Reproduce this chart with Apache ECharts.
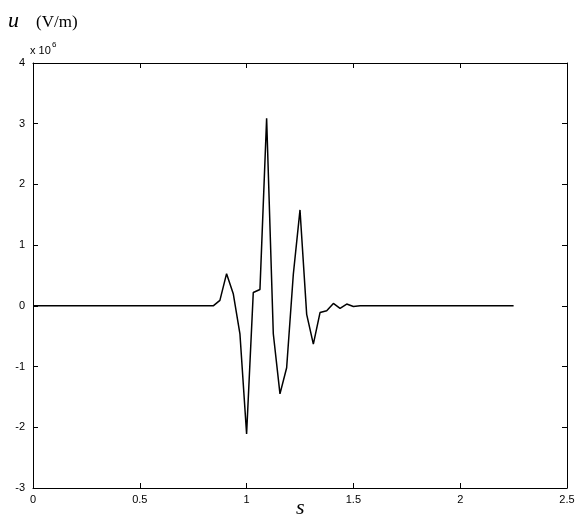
<!DOCTYPE html>
<html><head><meta charset="utf-8">
<script src="https://cdn.jsdelivr.net/npm/echarts@6/dist/echarts.min.js"></script>
<style>html,body{margin:0;background:#fff}#main{width:580px;height:525px}</style>
</head><body><div id="main"></div>
<script>
var sValues = [0, 0.84375, 0.875, 0.90625, 0.9375, 0.96875, 1.0, 1.03125, 1.0625, 1.09375, 1.125,
  1.15625, 1.1875, 1.21875, 1.25, 1.28125, 1.3125, 1.34375, 1.375, 1.40625, 1.4375, 1.46875, 1.5, 1.53125, 2.25];
var uValues = [0, 0, 0.09, 0.53, 0.20, -0.46, -2.11, 0.22, 0.27, 3.09, -0.46,
  -1.45, -1.02, 0.52, 1.58, -0.14, -0.63, -0.11, -0.08, 0.04, -0.04, 0.03, -0.01, 0, 0];

var chart = echarts.init(document.getElementById('main'));
var font = 'Liberation Sans, Arial, sans-serif';
var axisCommon = {
  axisLine: { onZero: false, lineStyle: { color: '#000', width: 1 } },
  axisTick: { inside: true, length: 5, lineStyle: { color: '#000' } },
  splitLine: { show: false }
};
chart.setOption({
  animation: false,
  grid: { left: 33, right: 13, top: 63, bottom: 37 },
  graphic: [
    { type: 'text', left: 8, top: 10, style: { text: 'u', font: 'italic 22px Liberation Serif, serif', fill: '#000' } },
    { type: 'text', left: 36, top: 14, style: { text: '(V/m)', font: '17px Liberation Serif, serif', fill: '#000' } },
    { type: 'text', left: 30, top: 45, style: { text: 'x 10', font: '11px ' + font, fill: '#000' } },
    { type: 'text', left: 52, top: 41, style: { text: '6', font: '8px ' + font, fill: '#000' } },
    { type: 'text', left: 296, top: 497, style: { text: 's', font: 'italic 22px Liberation Serif, serif', fill: '#000' } }
  ],
  xAxis: [
    Object.assign({ type: 'value', min: 0, max: 2.5, interval: 0.5,
      axisLabel: { color: '#000', fontSize: 11, fontFamily: font, margin: 6 } }, axisCommon),
    Object.assign({ type: 'value', position: 'top', min: 0, max: 2.5, interval: 0.5,
      axisLabel: { show: false } }, axisCommon)
  ],
  yAxis: [
    Object.assign({ type: 'value', min: -3, max: 4, interval: 1,
      axisLabel: { color: '#000', fontSize: 11, fontFamily: font, margin: 8 } }, axisCommon),
    Object.assign({ type: 'value', position: 'right', min: -3, max: 4, interval: 1,
      axisLabel: { show: false } }, axisCommon)
  ],
  series: [{
    type: 'line',
    data: sValues.map(function (s, i) { return [s, uValues[i]]; }),
    showSymbol: false,
    lineStyle: { color: '#000', width: 1.5 }
  }]
});
</script></body></html>
